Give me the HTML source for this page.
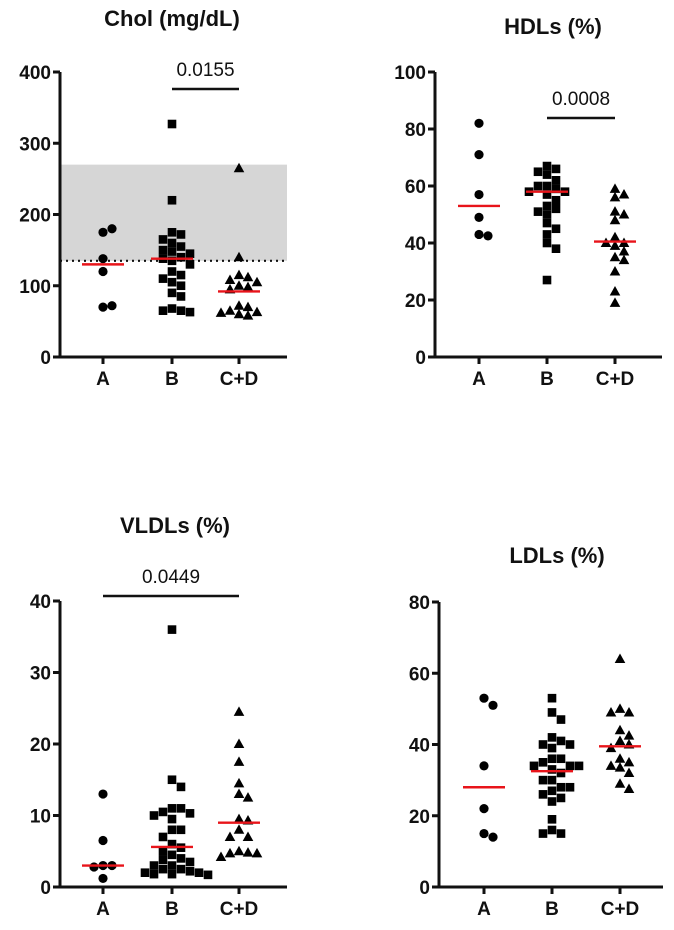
<!DOCTYPE html>
<html><head><meta charset="utf-8">
<style>
html,body{margin:0;padding:0;background:#fff;}
svg{display:block;font-family:"Liberation Sans",Arial,sans-serif;}
.tick{font-size:19px;font-weight:bold;fill:#111;}
.title{font-size:22px;font-weight:bold;fill:#111;}
.pv{font-size:19px;fill:#111;}
</style></head>
<body>
<svg id="chart" width="674" height="930" viewBox="0 0 674 930"></svg>
<script>
const categories = ["A","B","C+D"];
// Chol (mg/dL)
const cholA = [175,180,138,120,70,72];
const cholB = [327,220,175,172,165,160,155,150,148,145,140,138,135,130,120,115,110,105,100,90,85,68,65,65,63];
const cholCD = [265,140,115,112,108,105,100,98,95,72,70,65,63,62,60,58];
const cholMedians = [130,138,92];
const cholTicks = [0,100,200,300,400];
// HDLs (%)
const hdlA = [82,71,57,49,43,42.5];
const hdlB = [67,66,65,64,62,60,60,59,58,58,57,55,53,52,51,50,47,45,43,40,38,27];
const hdlCD = [59,57,56,51,50,48,42,40,40,39,37,35,34,30,23,19];
const hdlMedians = [53,58,40.5];
const hdlTicks = [0,20,40,60,80,100];
// VLDLs (%)
const vldlA = [13,6.5,3,3,2.8,1.2];
const vldlB = [36,15,14,11,11,10.5,10.3,10,9.5,8,8,7,6,5.5,5,4.5,4,3.8,3.5,3,3,2.5,2.5,2.2,2,2,1.8,1.8,1.7];
const vldlCD = [24.5,20,17.5,14.5,13,12.5,9.5,9.3,8,7,7,5,4.8,4.7,4.7,4.2];
const vldlMedians = [3,5.6,9];
const vldlTicks = [0,10,20,30,40];
// LDLs (%)
const ldlA = [53,51,34,22,15,14];
const ldlB = [53,49,47,42,41,40,40,39,36,36,35,34,34,34,33,32,30,30,28,28,27,26,25,24,19,16,15,15];
const ldlCD = [64,50,49,49,44,42.5,41,40,39,36,35,34,33.5,32,29,27.5];
const ldlMedians = [28,32.5,39.5];
const ldlTicks = [0,20,40,60,80];

const NS = "http://www.w3.org/2000/svg";
const svg = document.getElementById("chart");
function mk(tag, attrs, parent){
  const e = document.createElementNS(NS, tag);
  for (const k in attrs) e.setAttribute(k, attrs[k]);
  (parent||svg).appendChild(e);
  return e;
}

function panel(cfg){
  const g = mk("g", {});
  
  
  const yS = v => cfg.y0 - (v - cfg.min) / (cfg.max - cfg.min) * (cfg.y0 - cfg.y1);
  const xS = i => cfg.cx[i];
  const t = mk("text", {x: cfg.tx, y: cfg.ty, "text-anchor":"middle", class:"title"}, g);
  t.textContent = cfg.title;
  
  
  if (cfg.band){
    const r = mk("rect", {x: cfg.ax, y: yS(cfg.band[1]), width: cfg.axEnd - cfg.ax, height: yS(cfg.band[0]) - yS(cfg.band[1]), fill:"#d6d6d6"}, g);
    
    
    const d = mk("line", {x1: cfg.ax, x2: cfg.axEnd, y1: yS(cfg.band[0]), y2: yS(cfg.band[0]), stroke:"#111", "stroke-width":2.2, "stroke-dasharray":"2,4"}, g);
    
    
  }
  const ya = mk("line", {x1: cfg.ax, x2: cfg.ax, y1: cfg.y1, y2: cfg.y0 + 1.5, stroke:"#111", "stroke-width":3}, g);
  
  
  const xa = mk("line", {x1: cfg.ax - 1.5, x2: cfg.axEnd, y1: cfg.y0, y2: cfg.y0, stroke:"#111", "stroke-width":3}, g);
  
  
  cfg.ticks.forEach(v => {
    const y = yS(v);
    mk("line", {x1: cfg.ax - 7, x2: cfg.ax, y1: y, y2: y, stroke:"#111", "stroke-width":3}, g);
    const l = mk("text", {x: cfg.ax - 9, y: y + 7, "text-anchor":"end", class:"tick"}, g);
    l.textContent = v;
    
    
  });
  categories.forEach((c, i) => {
    mk("line", {x1: xS(i), x2: xS(i), y1: cfg.y0, y2: cfg.y0 + 7, stroke:"#111", "stroke-width":3}, g);
    const l = mk("text", {x: xS(i), y: cfg.y0 + 28, "text-anchor":"middle", class:"tick"}, g);
    l.textContent = c;
    
    
  });
  const shapes = ["circle","square","triangle"];
  cfg.groups.forEach((vals, gi) => {
    const placed = [];
    const cx = xS(gi), D = 8.5;
    vals.forEach(v => {
      const y = yS(v);
      let off = 0, k = 0;
      const ok = o => placed.every(p => Math.hypot(p[0] - (cx + o), p[1] - y) >= D);
      while (!ok(off)) { k++; off = (k % 2 ? 1 : -1) * Math.ceil(k / 2) * 4.5; }
      const x = cx + off;
      placed.push([x, y]);
      let m;
      if (shapes[gi] === "circle") m = mk("circle", {cx: x, cy: y, r: 4.6, fill:"#000"}, g);
      else if (shapes[gi] === "square") m = mk("rect", {x: x - 4.3, y: y - 4.3, width: 8.6, height: 8.6, fill:"#000"}, g);
      else m = mk("polygon", {points: `${x},${y-5.5} ${x+5.3},${y+4} ${x-5.3},${y+4}`, fill:"#000"}, g);
      
      
    });
  });
  cfg.medians.forEach((v, i) => {
    const l = mk("line", {x1: xS(i) - 21, x2: xS(i) + 21, y1: yS(v), y2: yS(v), stroke:"#e8141a", "stroke-width":2.4}, g);
    
    
  });
  const s = cfg.sig;
  if (s) {
    const sl = mk("line", {x1: xS(s.from), x2: xS(s.to), y1: s.y, y2: s.y, stroke:"#111", "stroke-width":2.5}, g);
    
    
    const st = mk("text", {x: (xS(s.from) + xS(s.to)) / 2, y: s.y - 13, "text-anchor":"middle", class:"pv"}, g);
    st.textContent = s.label;
    
    
  }
}

panel({name:"chol-panel", title:"Chol (mg/dL)", tx:172, ty:26, ax:60, axEnd:287, y0:357, y1:72, min:0, max:400,
  cx:[103,172,239], ticks:cholTicks, groups:[cholA,cholB,cholCD], medians:cholMedians, band:[135,270],
  sig:{from:1,to:2,y:89,label:"0.0155"}});
panel({name:"hdl-panel", title:"HDLs (%)", tx:553, ty:34, ax:435, axEnd:662, y0:357, y1:72, min:0, max:100,
  cx:[479,547,615], ticks:hdlTicks, groups:[hdlA,hdlB,hdlCD], medians:hdlMedians,
  sig:{from:1,to:2,y:118,label:"0.0008"}});
panel({name:"vldl-panel", title:"VLDLs (%)", tx:175, ty:533, ax:60, axEnd:287, y0:887, y1:601, min:0, max:40,
  cx:[103,172,239], ticks:vldlTicks, groups:[vldlA,vldlB,vldlCD], medians:vldlMedians,
  sig:{from:0,to:2,y:596,label:"0.0449"}});
panel({name:"ldl-panel", title:"LDLs (%)", tx:557, ty:563, ax:439, axEnd:663, y0:887, y1:602, min:0, max:80,
  cx:[484,552,620], ticks:ldlTicks, groups:[ldlA,ldlB,ldlCD], medians:ldlMedians, sig:null});
</script>
</body></html>
